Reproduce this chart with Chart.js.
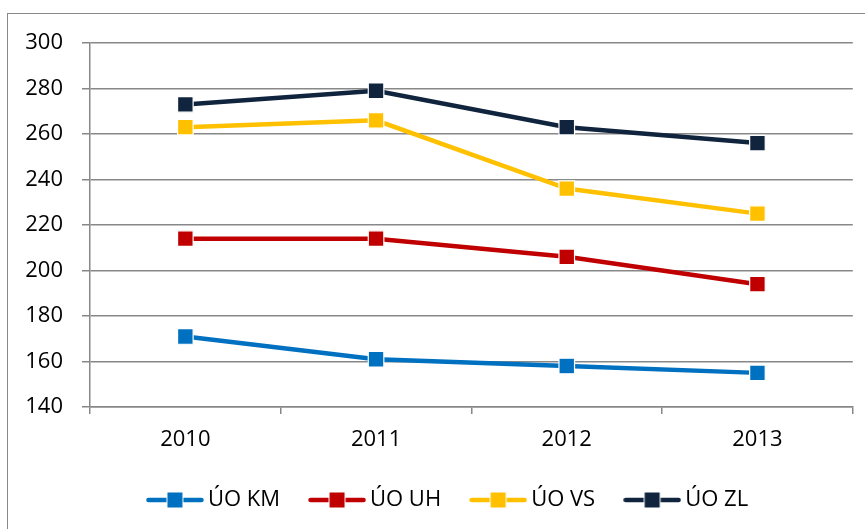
<!DOCTYPE html>
<html>
<head>
<meta charset="utf-8">
<script src="https://cdn.jsdelivr.net/npm/chart.js@4"></script>
<style>
  html, body { margin: 0; padding: 0; background: #fff; }
  #frame { position: absolute; left: 7px; top: 13px; width: 900px; height: 600px; border: 1.5px solid #888; box-sizing: border-box; }
  #wrap { position: absolute; left: 0; top: 0; width: 865px; height: 529px; }
</style>
</head>
<body>
<div id="frame"></div>
<div id="wrap"><canvas id="c" width="865" height="529"></canvas></div>
<script>
const categories = ['2010', '2011', '2012', '2013'];
const seriesNames = ['ÚO KM', 'ÚO UH', 'ÚO VS', 'ÚO ZL'];
const kmValues = [171, 161, 158, 155];
const uhValues = [214, 214, 206, 194];
const vsValues = [263, 266, 236, 225];
const zlValues = [273, 279, 263, 256];
const yMin = 140, yMax = 300, yStep = 20;

const colors = ['#0070C0', '#C00000', '#FFC000', '#10243E'];
const FONT = "'Open Sans', 'Liberation Sans', sans-serif";
const FS = 22;
const GRID = '#888888';

function legendSymbol(color) {
  const c = document.createElement('canvas');
  c.width = 58; c.height = 18;
  const g = c.getContext('2d');
  g.strokeStyle = color; g.lineWidth = 4.5; g.lineCap = 'round';
  g.beginPath(); g.moveTo(2.5, 9); g.lineTo(55.5, 9); g.stroke();
  g.fillStyle = '#fff'; g.fillRect(20.5, 0.5, 17, 17);
  g.fillStyle = color; g.fillRect(21.5, 1.5, 15, 15);
  return c;
}

const valueSets = [kmValues, uhValues, vsValues, zlValues];
const datasets = seriesNames.map((name, i) => ({
  label: name,
  data: valueSets[i],
  borderColor: colors[i],
  backgroundColor: colors[i],
  borderWidth: 4.5,
  pointStyle: 'rect',
  pointRadius: 11,
  pointHoverRadius: 11,
  pointBackgroundColor: colors[i],
  pointBorderColor: '#ffffff',
  pointBorderWidth: 1.2,
  tension: 0
}));

const legendShift = {
  id: 'legendShift',
  afterLayout(chart) {
    if (chart.legend) { chart.legend.left += 14; chart.legend.right += 14; }
  }
};

new Chart(document.getElementById('c'), {
  type: 'line',
  data: { labels: categories, datasets },
  plugins: [legendShift],
  options: {
    responsive: false,
    animation: false,
    events: [],
    layout: { padding: { left: 20, right: 12, top: 43, bottom: 8 } },
    plugins: {
      tooltip: { enabled: false },
      legend: {
        position: 'bottom',
        labels: {
          usePointStyle: true,
          pointStyleWidth: 44,
          padding: 35,
          color: '#000',
          font: { family: FONT, size: FS },
          generateLabels(chart) {
            const items = Chart.defaults.plugins.legend.labels.generateLabels(chart);
            items.forEach((it) => { it.pointStyle = legendSymbol(colors[it.datasetIndex]); });
            return items;
          }
        }
      }
    },
    scales: {
      x: {
        offset: true,
        grid: { display: true, drawOnChartArea: false, drawTicks: true, tickLength: 7, color: GRID, lineWidth: 1.5, offset: true },
        border: { display: true, color: GRID, width: 1.5 },
        ticks: { color: '#000', font: { family: FONT, size: FS }, padding: 13, maxRotation: 0 },
        afterFit(scale) { scale.height = 47; }
      },
      y: {
        min: yMin, max: yMax,
        grid: { color: GRID, lineWidth: 1.5, tickLength: 8, drawTicks: true },
        border: { display: true, color: GRID, width: 1.5 },
        ticks: { stepSize: yStep, color: '#000', font: { family: FONT, size: FS }, padding: 19 },
        afterFit(scale) { scale.width = 70; }
      }
    }
  }
});
</script>
</body>
</html>
